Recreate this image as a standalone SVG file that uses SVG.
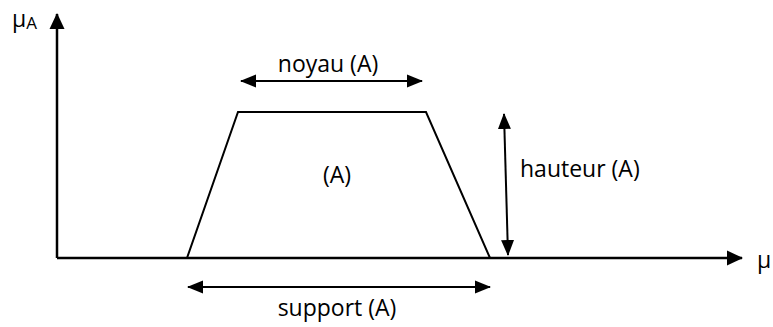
<svg xmlns="http://www.w3.org/2000/svg" width="773" height="327" viewBox="0 0 773 327">
<style>
.ln{stroke:#000;stroke-width:2;fill:none}
.ax{stroke:#000;stroke-width:2.5;fill:none}
.t{font-family:"Open Sans","Liberation Sans",sans-serif;font-size:23px;fill:#000}
</style>
<defs>
<marker id="ah" markerUnits="userSpaceOnUse" markerWidth="16" markerHeight="16" viewBox="0 0 16 16" refX="15" refY="8" orient="auto-start-reverse">
<path d="M0,0.5 L16,8 L0,15.5 Z" fill="#000"/>
</marker>
<marker id="ahs" markerUnits="userSpaceOnUse" markerWidth="16" markerHeight="14" viewBox="0 0 16 14" refX="15" refY="7" orient="auto-start-reverse">
<path d="M0,0.5 L16,7 L0,13.5 Z" fill="#000"/>
</marker>
</defs>
<rect width="773" height="327" fill="#fff"/>
<g id="axes">
<path class="ax" d="M57,258 L57,14" marker-end="url(#ah)"/>
<path class="ax" d="M57,258 L742,258" marker-end="url(#ah)"/>
<text class="t" x="12" y="27">μ<tspan font-size="17" dy="2">A</tspan></text>
<text class="t" x="757" y="268">μ</text>
</g>
<g id="trapeze">
<path class="ln" d="M187,258 L238,112 L426,112 L490,258"/>
<text class="t" x="337" y="183" text-anchor="middle">(A)</text>
</g>
<g id="connectors">
<path class="ln" d="M241,81 L422,81" marker-start="url(#ahs)" marker-end="url(#ahs)"/>
<path class="ln" d="M188,287 L490,287" marker-start="url(#ahs)" marker-end="url(#ahs)"/>
<path class="ln" d="M504,114 L508,255" marker-start="url(#ahs)" marker-end="url(#ahs)"/>
</g>
<g id="labels">
<text class="t" x="328" y="72" text-anchor="middle">noyau (A)</text>
<text class="t" x="520" y="177">hauteur (A)</text>
<text class="t" x="337" y="316" text-anchor="middle">support (A)</text>
</g>
</svg>
